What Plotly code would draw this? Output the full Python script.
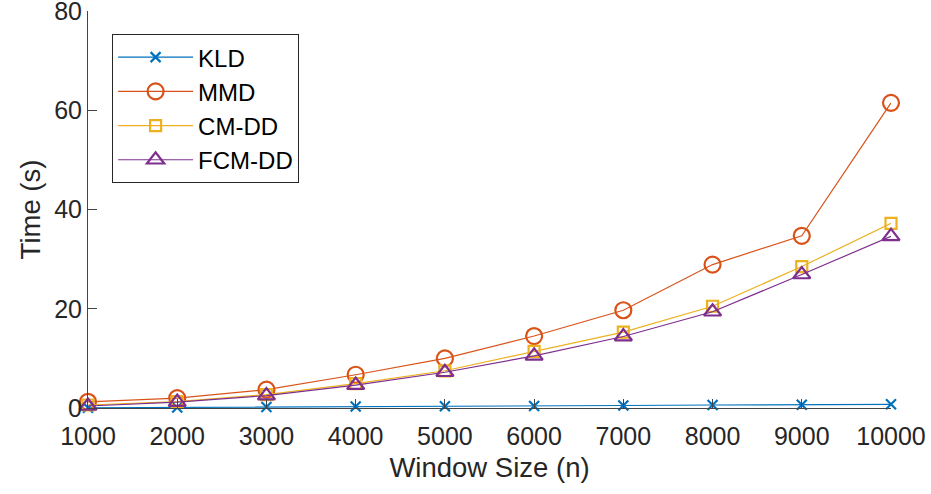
import plotly.graph_objects as go

window_sizes = [1000, 2000, 3000, 4000, 5000, 6000, 7000, 8000, 9000, 10000]
kld = [0.05, 0.1, 0.2, 0.3, 0.35, 0.4, 0.5, 0.6, 0.65, 0.75]
mmd = [1.25, 2.0, 3.7, 6.7, 10.0, 14.5, 19.7, 28.9, 34.7, 61.5]
cmdd = [0.6, 1.3, 2.7, 4.9, 7.5, 11.4, 15.3, 20.5, 28.5, 37.2]
fcmdd = [0.4, 1.2, 2.5, 4.6, 7.2, 10.5, 14.4, 19.4, 26.9, 34.6]

x_ticks = [1000, 2000, 3000, 4000, 5000, 6000, 7000, 8000, 9000, 10000]
y_ticks = [0, 20, 40, 60, 80]

series = [
    ("KLD", kld, "#0072BD", "x-thin", 10),
    ("MMD", mmd, "#D95319", "circle-open", 16),
    ("CM-DD", cmdd, "#EDB120", "square-open", 11),
    ("FCM-DD", fcmdd, "#7E2F8E", "triangle-up-open", 15),
]

fig = go.Figure()
for name, vals, color, sym, size in series:
    fig.add_trace(go.Scatter(
        x=window_sizes, y=vals, name=name, mode="lines+markers",
        line=dict(color=color, width=1.2),
        marker=dict(symbol=sym, size=size, color=color,
                    line=dict(color=color, width=2.2)),
        cliponaxis=False,
    ))

font_family = "Liberation Sans, Arial, sans-serif"
fig.update_layout(
    width=931, height=494,
    margin=dict(l=88, r=40, t=11, b=85.5, autoexpand=False),
    paper_bgcolor="white", plot_bgcolor="white",
    font=dict(family=font_family, size=25, color="#262626"),
    showlegend=True,
    legend=dict(
        x=0.03, y=0.942, xanchor="left", yanchor="top",
        bgcolor="white", bordercolor="#262626", borderwidth=1,
        font=dict(family=font_family, size=24, color="black"),
        tracegroupgap=0, itemwidth=75,
    ),
    xaxis=dict(
        range=[1000, 10000], tickvals=x_ticks,
        ticktext=[str(v) for v in x_ticks],
        ticks="inside", ticklen=9, tickcolor="#444",
        showline=True, linecolor="#444", linewidth=1,
        showgrid=False, zeroline=False, automargin=False,
        ticklabeloverflow="allow", ticklabelstandoff=6,
        title=dict(text="Window Size (n)", font=dict(size=27.5), standoff=8),
        tickfont=dict(size=25),
    ),
    yaxis=dict(
        range=[0, 80], tickvals=y_ticks,
        ticks="inside", ticklen=9, tickcolor="#444",
        showline=True, linecolor="#444", linewidth=1,
        showgrid=False, zeroline=False, automargin=False,
        ticklabeloverflow="allow", ticklabelstandoff=0,
        title=dict(text="Time (s)", font=dict(size=27.5), standoff=5),
        tickfont=dict(size=25),
    ),
)

fig.write_html("out.html", config={"displayModeBar": False},
               post_script="document.body.style.margin='0';")
